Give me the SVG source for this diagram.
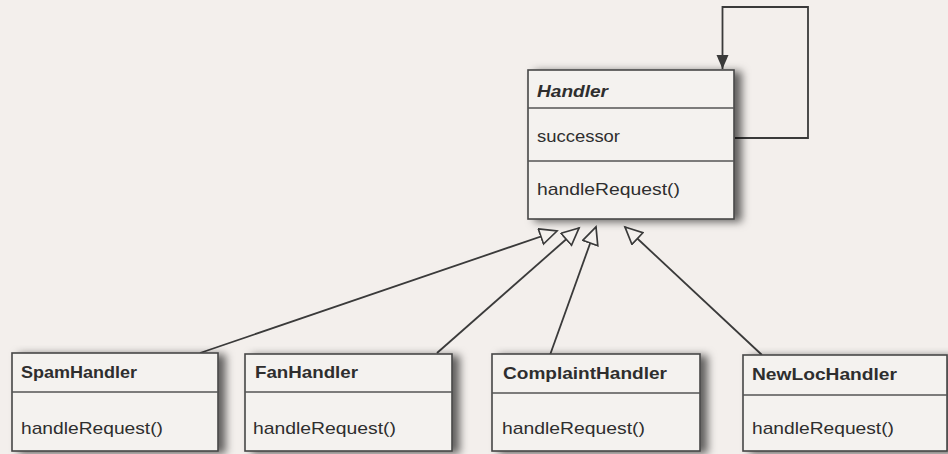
<svg xmlns="http://www.w3.org/2000/svg" width="948" height="454" viewBox="0 0 948 454">
  <defs>
    <style>
      .box { fill: #f4f2ef; stroke: #474747; stroke-width: 1.6; }
      .div { stroke: #555; stroke-width: 1.6; }
      .t { font-family: "Liberation Sans", Arial, sans-serif; fill: #2e2e2e; font-size: 17px; }
      .b { font-weight: bold; }
      .bi { font-weight: bold; font-style: italic; }
      .conn { fill: none; stroke: #3a3a3a; stroke-width: 1.8; }
    </style>
    <filter id="shadow" x="-10%" y="-10%" width="130%" height="130%">
      <feGaussianBlur in="SourceAlpha" stdDeviation="4"/>
      <feOffset dx="7" dy="2" result="blur"/>
      <feFlood flood-color="#000" flood-opacity="0.6"/>
      <feComposite in2="blur" operator="in"/>
      <feMerge><feMergeNode/><feMergeNode in="SourceGraphic"/></feMerge>
    </filter>
    <marker id="gen" markerUnits="userSpaceOnUse" markerWidth="22" markerHeight="20" refX="18" refY="8.5" orient="auto">
      <path d="M1,0.5 L18,8.5 L1,16.5 Z" fill="#f4f1ee" stroke="#3a3a3a" stroke-width="1.7" stroke-linejoin="miter"/>
    </marker>
    <marker id="arr" markerUnits="userSpaceOnUse" markerWidth="16" markerHeight="14" refX="14" refY="6" orient="auto">
      <path d="M0,0 L14,6 L0,12 Z" fill="#3a3a3a"/>
    </marker>
  </defs>

  <rect x="0" y="0" width="948" height="454" fill="#f3efec"/>

  <g id="connectors">
    <path class="conn" d="M735,138 H808 V7 H722.5 V69" marker-end="url(#arr)"/>
    <line class="conn" x1="200" y1="353" x2="557" y2="231" marker-end="url(#gen)"/>
    <line class="conn" x1="437" y1="353" x2="579" y2="228" marker-end="url(#gen)"/>
    <line class="conn" x1="550" y1="355" x2="596" y2="227" marker-end="url(#gen)"/>
    <line class="conn" x1="762" y1="355" x2="625" y2="227" marker-end="url(#gen)"/>
  </g>

  <g id="Handler">
    <rect class="box" x="528" y="70" width="206" height="149" filter="url(#shadow)"/>
    <line class="div" x1="528" y1="108" x2="734" y2="108"/>
    <line class="div" x1="528" y1="161" x2="734" y2="161"/>
    <text class="t bi" x="537" y="97" textLength="71" lengthAdjust="spacingAndGlyphs">Handler</text>
    <text class="t" x="537" y="142" textLength="83" lengthAdjust="spacingAndGlyphs">successor</text>
    <text class="t" x="537" y="195" textLength="143" lengthAdjust="spacingAndGlyphs">handleRequest()</text>
  </g>

  <g id="SpamHandler">
    <rect class="box" x="12" y="353" width="206" height="98" filter="url(#shadow)"/>
    <line class="div" x1="12" y1="392" x2="218" y2="392"/>
    <text class="t b" x="21" y="378" textLength="116" lengthAdjust="spacingAndGlyphs">SpamHandler</text>
    <text class="t" x="21" y="434" textLength="142" lengthAdjust="spacingAndGlyphs">handleRequest()</text>
  </g>

  <g id="FanHandler">
    <rect class="box" x="245" y="354" width="207" height="97" filter="url(#shadow)"/>
    <line class="div" x1="245" y1="392" x2="452" y2="392"/>
    <text class="t b" x="255" y="378" textLength="103" lengthAdjust="spacingAndGlyphs">FanHandler</text>
    <text class="t" x="253" y="434" textLength="143" lengthAdjust="spacingAndGlyphs">handleRequest()</text>
  </g>

  <g id="ComplaintHandler">
    <rect class="box" x="492" y="354" width="208" height="97" filter="url(#shadow)"/>
    <line class="div" x1="492" y1="393" x2="700" y2="393"/>
    <text class="t b" x="503" y="379" textLength="164" lengthAdjust="spacingAndGlyphs">ComplaintHandler</text>
    <text class="t" x="502" y="434" textLength="143" lengthAdjust="spacingAndGlyphs">handleRequest()</text>
  </g>

  <g id="NewLocHandler">
    <rect class="box" x="743" y="355" width="204" height="96" filter="url(#shadow)"/>
    <line class="div" x1="743" y1="395" x2="947" y2="395"/>
    <text class="t b" x="752" y="380" textLength="145" lengthAdjust="spacingAndGlyphs">NewLocHandler</text>
    <text class="t" x="752" y="434" textLength="142" lengthAdjust="spacingAndGlyphs">handleRequest()</text>
  </g>
</svg>
